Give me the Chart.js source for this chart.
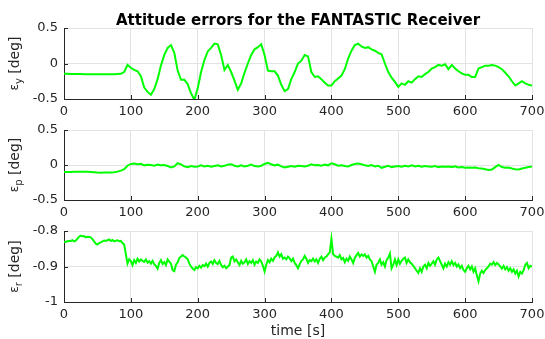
<!DOCTYPE html>
<html>
<head>
<meta charset="utf-8">
<script src="https://cdn.jsdelivr.net/npm/chart.js@4.4.1/dist/chart.umd.min.js"></script>
<style>
  html, body { margin: 0; padding: 0; background: #fff; width: 545px; height: 339px; overflow: hidden; }
  .panel { position: absolute; left: 0; width: 545px; }
  canvas { display: block; }
</style>
</head>
<body>
<div class="panel" style="top:0"><canvas id="yaw" width="545" height="120"></canvas></div>
<div class="panel" style="top:120px"><canvas id="pitch" width="545" height="100"></canvas></div>
<div class="panel" style="top:220px"><canvas id="roll" width="545" height="119"></canvas></div>
<script>
// ---- data -------------------------------------------------------------
const chartTitle = 'Attitude errors for the FANTASTIC Receiver';
const timeLabel = 'time [s]';
const xTicks = [0, 100, 200, 300, 400, 500, 600, 700];

// yaw error [deg], sampled every 5 s from 0 to 700 s
const yawStep = 5;
const yawErr = [
  -0.145,-0.146,-0.147,-0.148,-0.148,
  -0.149,-0.150,-0.150,-0.151,-0.150,
  -0.151,-0.151,-0.150,-0.150,-0.151,
  -0.150,-0.148,-0.145,-0.120,-0.020,
  -0.060,-0.090,-0.110,-0.180,-0.340,
  -0.400,-0.440,-0.360,-0.220,-0.030,
   0.120, 0.220, 0.260, 0.150,-0.100,
  -0.230,-0.230,-0.290,-0.420,-0.510,
  -0.350,-0.120, 0.050, 0.170, 0.220,
   0.280, 0.270, 0.120,-0.090,-0.020,
  -0.120,-0.240,-0.370,-0.280,-0.130,
   0.000, 0.120, 0.200, 0.230, 0.270,
   0.120,-0.100,-0.110,-0.110,-0.170,
  -0.300,-0.390,-0.360,-0.220,-0.120,
   0.000, 0.040, 0.120, 0.100,-0.120,
  -0.190,-0.180,-0.220,-0.270,-0.310,
  -0.310,-0.250,-0.210,-0.170,-0.080,
   0.070, 0.180, 0.260, 0.280, 0.240,
   0.220, 0.230, 0.200, 0.180, 0.150,
   0.130, 0.000,-0.120,-0.200,-0.260,
  -0.330,-0.280,-0.300,-0.250,-0.270,
  -0.220,-0.180,-0.190,-0.150,-0.120,
  -0.070,-0.050,-0.020,-0.030,-0.010,
  -0.080,-0.020,-0.070,-0.110,-0.140,
  -0.160,-0.160,-0.190,-0.190,-0.070,
  -0.050,-0.030,-0.030,-0.020,-0.030,
  -0.050,-0.080,-0.130,-0.180,-0.250,
  -0.310,-0.280,-0.250,-0.280,-0.300,
  -0.310
];

// pitch error [deg], sampled every 5 s
const pitchStep = 5;
const pitchErr = [
  -0.100,-0.100,-0.100,-0.098,-0.097,
  -0.096,-0.098,-0.097,-0.100,-0.102,
  -0.108,-0.110,-0.107,-0.108,-0.106,
  -0.105,-0.095,-0.080,-0.060,-0.010,
   0.015, 0.020, 0.010, 0.018,-0.005,
   0.005, 0.000,-0.010, 0.005,-0.005,
   0.000,-0.015,-0.035,-0.020, 0.025,
   0.010,-0.020,-0.030,-0.015,-0.025,
  -0.020,-0.005,-0.020,-0.010,-0.025,
  -0.015,-0.005,-0.020,-0.010, 0.005,
   0.012,-0.010,-0.020,-0.005,-0.020,
  -0.010, 0.005,-0.015,-0.020,-0.010,
   0.015, 0.030, 0.010,-0.005, 0.005,
  -0.020,-0.035,-0.025,-0.015,-0.025,
  -0.010,-0.015,-0.020,-0.010, 0.010,
  -0.005, 0.000,-0.010, 0.005,-0.005,
   0.025, 0.010,-0.010,-0.005,-0.015,
  -0.020, 0.000, 0.015, 0.020, 0.010,
  -0.005,-0.015, 0.000,-0.020,-0.010,
  -0.040,-0.025,-0.010,-0.030,-0.020,
  -0.015,-0.025,-0.010,-0.020,-0.005,
  -0.020,-0.010,-0.025,-0.015,-0.020,
  -0.025,-0.015,-0.030,-0.020,-0.025,
  -0.020,-0.030,-0.020,-0.035,-0.030,
  -0.040,-0.035,-0.040,-0.035,-0.045,
  -0.050,-0.060,-0.070,-0.065,-0.030,
   0.000,-0.030,-0.040,-0.035,-0.050,
  -0.060,-0.065,-0.050,-0.040,-0.030,
  -0.020
];

// roll error [deg], sampled every 2.5 s
const rollStep = 2.5;
const rollErr = [
  -0.830,-0.831,-0.829,-0.828,  -0.828,-0.826,-0.829,-0.827,
  -0.822,-0.816,-0.813,-0.815,  -0.814,-0.818,-0.816,-0.817,
  -0.818,-0.823,-0.829,-0.836,  -0.838,-0.834,-0.832,-0.829,
  -0.827,-0.828,-0.826,-0.824,  -0.828,-0.825,-0.829,-0.827,
  -0.826,-0.829,-0.828,-0.834,  -0.838,-0.865,-0.892,-0.880,
  -0.885,-0.896,-0.882,-0.890,  -0.878,-0.886,-0.880,-0.884,
  -0.887,-0.880,-0.889,-0.885,  -0.892,-0.884,-0.894,-0.898,
  -0.906,-0.890,-0.882,-0.893,  -0.888,-0.896,-0.880,-0.886,
  -0.892,-0.910,-0.913,-0.895,  -0.888,-0.876,-0.872,-0.868,
  -0.872,-0.875,-0.880,-0.892,  -0.900,-0.906,-0.910,-0.902,
  -0.905,-0.898,-0.903,-0.896,  -0.899,-0.892,-0.900,-0.890,
  -0.886,-0.893,-0.882,-0.890,  -0.893,-0.884,-0.896,-0.902,
  -0.898,-0.905,-0.900,-0.896,  -0.875,-0.872,-0.886,-0.880,
  -0.888,-0.896,-0.884,-0.892,  -0.888,-0.880,-0.893,-0.885,
  -0.890,-0.882,-0.895,-0.886,  -0.890,-0.880,-0.886,-0.898,
  -0.914,-0.895,-0.882,-0.888,  -0.878,-0.884,-0.874,-0.870,
  -0.860,-0.872,-0.865,-0.878,  -0.875,-0.880,-0.872,-0.877,
  -0.885,-0.878,-0.890,-0.896,  -0.905,-0.894,-0.884,-0.880,
  -0.870,-0.878,-0.890,-0.882,  -0.885,-0.878,-0.886,-0.880,
  -0.890,-0.878,-0.872,-0.882,  -0.875,-0.872,-0.866,-0.860,
  -0.822,-0.865,-0.870,-0.872,  -0.875,-0.868,-0.880,-0.876,
  -0.888,-0.878,-0.884,-0.872,  -0.880,-0.890,-0.876,-0.868,
  -0.862,-0.872,-0.866,-0.870,  -0.866,-0.875,-0.870,-0.880,
  -0.885,-0.900,-0.915,-0.895,  -0.890,-0.880,-0.895,-0.888,
  -0.900,-0.882,-0.875,-0.864,  -0.905,-0.895,-0.880,-0.896,
  -0.880,-0.892,-0.884,-0.878,  -0.875,-0.890,-0.880,-0.888,
  -0.892,-0.898,-0.905,-0.912,  -0.918,-0.905,-0.915,-0.900,
  -0.895,-0.905,-0.890,-0.898,  -0.892,-0.885,-0.895,-0.880,
  -0.875,-0.885,-0.895,-0.905,  -0.892,-0.900,-0.888,-0.895,
  -0.885,-0.896,-0.890,-0.900,  -0.894,-0.905,-0.898,-0.910,
  -0.915,-0.905,-0.898,-0.908,  -0.900,-0.915,-0.905,-0.925,
  -0.942,-0.920,-0.912,-0.918,  -0.910,-0.905,-0.900,-0.892,
  -0.895,-0.888,-0.896,-0.890,  -0.894,-0.900,-0.906,-0.898,
  -0.908,-0.902,-0.912,-0.905,  -0.915,-0.908,-0.920,-0.912,
  -0.928,-0.915,-0.920,-0.910,  -0.895,-0.890,-0.905,-0.898,
  -0.900
];

const yawTicks = [-0.5, 0, 0.5];
const pitchTicks = [-0.5, 0, 0.5];
const rollTicks = [-1, -0.9, -0.8];

// ---- styling ----------------------------------------------------------
const FONT = '"DejaVu Sans", sans-serif';
const INK = '#262626';
const GRID = '#e3e3e3';
const LINE = '#00ff00';
const PLOT_LEFT = 64, PLOT_RIGHT_PAD = 13;

function toPoints(values, step) {
  return values.map((v, i) => ({ x: i * step, y: v }));
}

// Draws the rotated y label "ε<sub> [deg]", inward tick marks and the
// optional chart title / x axis label.
const decorations = {
  id: 'decorations',
  afterDraw(chart, args, opts) {
    const { ctx, chartArea: a, scales } = chart;
    ctx.save();
    ctx.strokeStyle = INK;
    ctx.lineWidth = 1;
    ctx.beginPath();
    scales.x.ticks.forEach(t => {
      const px = Math.round(scales.x.getPixelForValue(t.value)) + 0.5;
      ctx.moveTo(px, a.bottom);
      ctx.lineTo(px, a.bottom - 4);
    });
    scales.y.ticks.forEach(t => {
      const py = Math.round(scales.y.getPixelForValue(t.value)) + 0.5;
      ctx.moveTo(a.left, py);
      ctx.lineTo(a.left + 4, py);
    });
    ctx.stroke();

    const cy = (a.top + a.bottom) / 2;
    ctx.translate(opts.labelX, cy);
    ctx.rotate(-Math.PI / 2);
    ctx.fillStyle = INK;
    ctx.textBaseline = 'alphabetic';
    ctx.textAlign = 'left';
    const fSym = '12px ' + FONT, fSub = '10px ' + FONT, fUnit = '14px ' + FONT;
    ctx.font = fSym; const wSym = ctx.measureText('ε').width;
    ctx.font = fSub; const wSub = ctx.measureText(opts.sub).width;
    ctx.font = fUnit; const wUnit = ctx.measureText(' [deg]').width;
    let x = -(wSym + wSub + wUnit) / 2;
    const base = 5;
    ctx.font = fSym; ctx.fillText('ε', x, base - 1); x += wSym;
    ctx.font = fSub; ctx.fillText(opts.sub, x, base + 3); x += wSub;
    ctx.font = fUnit; ctx.fillText(' [deg]', x, base);
    ctx.setTransform(1, 0, 0, 1, 0, 0);

    if (opts.title) {
      ctx.font = 'bold 15px ' + FONT;
      ctx.textAlign = 'center';
      ctx.textBaseline = 'alphabetic';
      ctx.fillStyle = '#000';
      ctx.fillText(opts.title, (a.left + a.right) / 2, 25);
    }
    if (opts.xlabel) {
      ctx.font = '14px ' + FONT;
      ctx.textAlign = 'center';
      ctx.textBaseline = 'alphabetic';
      ctx.fillStyle = INK;
      ctx.fillText(opts.xlabel, (a.left + a.right) / 2, a.bottom + 33);
    }
    ctx.restore();
  }
};

function makeChart(id, values, step, yTicks, sub, padTop, xHeight, extra) {
  const yMin = yTicks[0], yMax = yTicks[yTicks.length - 1];
  return new Chart(document.getElementById(id), {
    type: 'line',
    data: {
      datasets: [{
        data: toPoints(values, step),
        borderColor: LINE,
        borderWidth: 2,
        pointRadius: 0,
        tension: 0,
        fill: false
      }]
    },
    options: {
      responsive: false,
      animation: false,
      events: [],
      layout: { autoPadding: false, padding: { top: padTop, right: PLOT_RIGHT_PAD, left: 0, bottom: 0 } },
      plugins: {
        legend: { display: false },
        tooltip: { enabled: false },
        decorations: Object.assign({ sub, labelX: 14 }, extra || {})
      },
      scales: {
        x: {
          type: 'linear',
          min: xTicks[0], max: xTicks[xTicks.length - 1],
          afterBuildTicks: s => { s.ticks = xTicks.map(v => ({ value: v })); },
          afterFit: s => { s.height = xHeight; s.paddingLeft = 0; s.paddingRight = 0; },
          grid: { color: GRID, drawTicks: false },
          border: { color: INK, width: 1 },
          ticks: { color: INK, font: { family: FONT, size: 13 }, padding: 5, maxRotation: 0, autoSkip: false }
        },
        y: {
          type: 'linear',
          min: yMin, max: yMax,
          afterBuildTicks: s => { s.ticks = yTicks.map(v => ({ value: v })); },
          afterFit: s => { s.width = PLOT_LEFT; s.paddingTop = 0; s.paddingBottom = 0; },
          grid: { color: GRID, drawTicks: false },
          border: { color: INK, width: 1 },
          ticks: {
            color: INK, font: { family: FONT, size: 13 }, padding: 6,
            callback: v => String(Math.round(v * 100) / 100)
          }
        }
      }
    },
    plugins: [decorations]
  });
}

makeChart('yaw', yawErr, yawStep, yawTicks, 'y', 28, 21, { title: chartTitle });
makeChart('pitch', pitchErr, pitchStep, pitchTicks, 'p', 10, 20);
makeChart('roll', rollErr, rollStep, rollTicks, 'r', 11, 37, { xlabel: timeLabel });
</script>
</body>
</html>
